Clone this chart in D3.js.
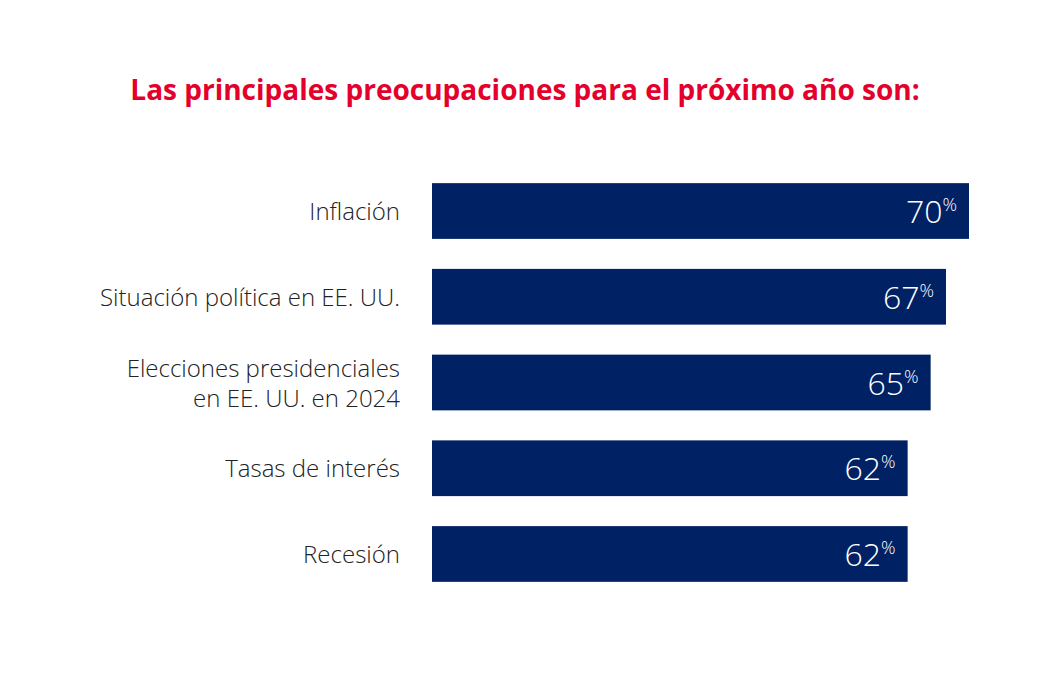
<!DOCTYPE html>
<html><head><meta charset="utf-8">
<script src="https://cdn.jsdelivr.net/npm/d3@7"></script>
<style>body{margin:0;background:#fff}</style>
</head><body>
<svg id="chart" width="1050" height="674"></svg>
<script>
var categories = [["Inflación"],["Situación política en EE. UU."],["Elecciones presidenciales","en EE. UU. en 2024"],["Tasas de interés"],["Recesión"]]
var values = [70,67,65,62,62]
var title = "Las principales preocupaciones para el próximo año son:"

var svg = d3.select("#chart")
var font = "'Open Sans', 'Noto Sans', sans-serif"

svg.append("text").text(title)
	.attr("x",525).attr("y",100)
	.attr("text-anchor","middle")
	.attr("font-family",font).attr("font-weight",700)
	.attr("font-size",28).attr("fill","#e4002b")

var xScale = d3.scaleLinear().domain([0,70]).range([432,969])
var yScale = d3.scaleBand().domain(d3.range(values.length)).range([166,599]).paddingInner(0.35).paddingOuter(0.2)

svg.selectAll(".bar").data(values).enter().append("rect")
	.attr("x",xScale(0))
	.attr("y",function(d,i){return yScale(i)})
	.attr("width",function(d){return xScale(d)-xScale(0)})
	.attr("height",yScale.bandwidth())
	.attr("fill","#002164")

var vals = svg.selectAll(".val").data(values).enter().append("text")
	.attr("x",function(d){return xScale(d)-12})
	.attr("y",function(d,i){return yScale(i)+yScale.bandwidth()/2+12})
	.attr("text-anchor","end")
	.attr("font-family",font).attr("font-weight",300)
	.attr("fill","#fff")
vals.append("tspan").attr("font-size",32).text(function(d){return d})
vals.append("tspan").attr("font-size",18).attr("dy",-12).text("%")

categories.forEach(function(lines,i){
	var cy = yScale(i)+yScale.bandwidth()/2
	var t = svg.append("text")
		.attr("x",400).attr("text-anchor","end")
		.attr("font-family",font).attr("font-weight",300)
		.attr("font-size",24).attr("fill","#222")
	lines.forEach(function(l,j){
		t.append("tspan").attr("x",400)
			.attr("y",cy+9+(j-(lines.length-1)/2)*30)
			.text(l)
	})
})
</script>
</body></html>
